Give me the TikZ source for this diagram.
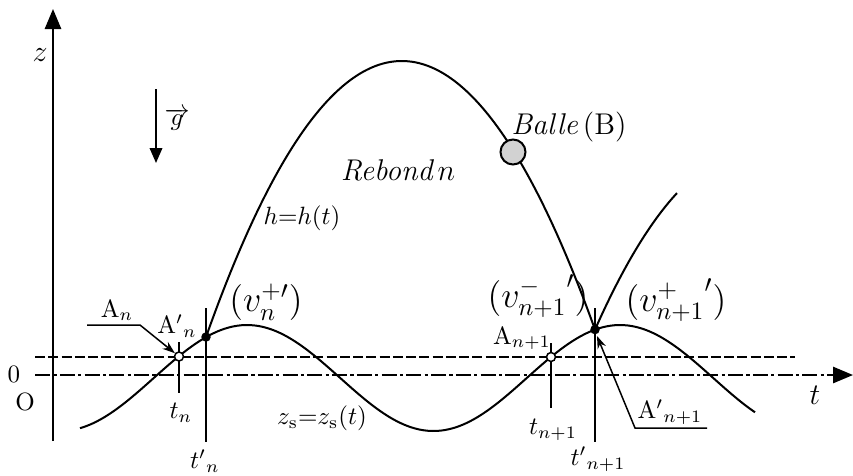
\documentclass[tikz,border=0pt]{standalone}
\usetikzlibrary{arrows.meta}
\begin{document}
\begin{tikzpicture}[x=0.4pt,y=-0.4pt,
  curve/.style={line width=0.8pt},
  axisline/.style={line width=0.8pt,-{Triangle[length=8pt,width=6.5pt]}},
  dashdot/.style={dash pattern=on 6pt off 1.3pt on 1.3pt off 1.3pt},
  longdash/.style={dash pattern=on 4pt off 1.3pt},
  lbl/.style={inner sep=0pt},
  leader/.style={line width=0.6pt,-{Stealth[length=5pt,width=3.5pt]}},
  tick/.style={line width=0.7pt},
  opendot/.style={circle,draw,fill=white,inner sep=0pt,minimum size=3.6pt,line width=0.6pt},
  fulldot/.style={circle,fill=black,inner sep=0pt,minimum size=3.8pt}]
\useasboundingbox (0,0) rectangle (853,475);
% axes
\coordinate (zb) at (53,441); \coordinate (zt) at (53,9);
\draw[axisline] (zb) -- (zt);
\coordinate (tl) at (35,375); \coordinate (tr) at (853,375);
\draw[axisline,dashdot] (tl) -- (tr);
\coordinate (dl) at (35,357); \coordinate (dr) at (795,357);
\draw[line width=0.7pt,longdash] (dl) -- (dr);
% gravity
\coordinate (g1) at (156,89); \coordinate (g2) at (156,163);
\draw[line width=0.8pt,-{Triangle[length=6pt,width=5pt]}] (g1) -- (g2);
% curves
\draw[curve] plot[domain=80:755,samples=160,smooth] (\x,{378-53*cos(0.965147*(\x-247))});
\draw[curve] plot[domain=206:595,samples=120,smooth] (\x,{61+(0.08484*(\x-401.82))^2});
\draw[curve] plot[domain=595:677,samples=40,smooth] (\x,{152.9+(0.08484*(\x-751.7))^2});
% vertical ticks
\coordinate (tn1) at (179,342); \coordinate (tn2) at (179,393);
\coordinate (tpn1) at (206,308); \coordinate (tpn2) at (206,442);
\coordinate (tm1) at (551,343); \coordinate (tm2) at (551,408);
\coordinate (tpm1) at (595,308); \coordinate (tpm2) at (595,442);
\draw[tick] (tn1) -- (tn2);
\draw[tick] (tpn1) -- (tpn2);
\draw[tick] (tm1) -- (tm2);
\draw[tick] (tpm1) -- (tpm2);
% points
\node[opendot] (An) at (179,356.5) {};
\node[opendot] (Am) at (551,357) {};
\node[fulldot] (Apn) at (206,337) {};
\node[fulldot] (Apm) at (595,329.6) {};
\node[circle,draw,fill=gray!35,minimum size=10pt,inner sep=0pt,line width=0.8pt] (ball) at (513,152) {};
% leaders
\coordinate (ln1) at (87,325); \coordinate (ln2) at (140,325);
\draw[leader] (ln1) -- (ln2) -- (An);
\coordinate (lm1) at (707,428); \coordinate (lm2) at (635,428);
\coordinate (lm3) at (597,336);
\draw[leader] (lm1) -- (lm2) -- (lm3);
% labels
\node[lbl] (zlab) at (40,55) {\large$z$};
\node[lbl] (glab) at (177,119) {$\overrightarrow{g}$};
\node[lbl] (reb) at (398,170) {\large\itshape Rebond\,$n$};
\node[lbl] (balle) at (569,127) {\large\itshape Balle\,\upshape(B)};
\node[lbl] (hlab) at (302,218) {$h{=}h(t)$};
\node[lbl] (vn) at (266,302) {\Large$(v_n^{+\prime})$};
\node[lbl] (vm) at (538,296) {\Large$({v_{n+1}^{-}}')$};
\node[lbl] (vp) at (676,300) {\Large$({v_{n+1}^{+}}')$};
\node[lbl] (Anl) at (117,310) {A$_n$};
\node[lbl] (Apnl) at (177,326) {A$'{}_n$};
\node[lbl] (Aml) at (522,338) {A$_{n+1}$};
\node[lbl] (Apml) at (670,412) {A$'{}_{n+1}$};
\node[lbl] (tnl) at (181,413) {$t_n$};
\node[lbl] (tpnl) at (205,461) {$t'{}_n$};
\node[lbl] (tml) at (553,430) {$t_{n+1}$};
\node[lbl] (tpml) at (598,459) {$t'{}_{n+1}$};
\node[lbl] (zsl) at (322,418) {$z_{\mathrm{s}}{=}z_{\mathrm{s}}(t)$};
\node[lbl] (tlab) at (815,395) {\large$t$};
\node[lbl] (zero) at (14,374) {0};
\node[lbl] (orig) at (25,402) {O};
\end{tikzpicture}
\end{document}
